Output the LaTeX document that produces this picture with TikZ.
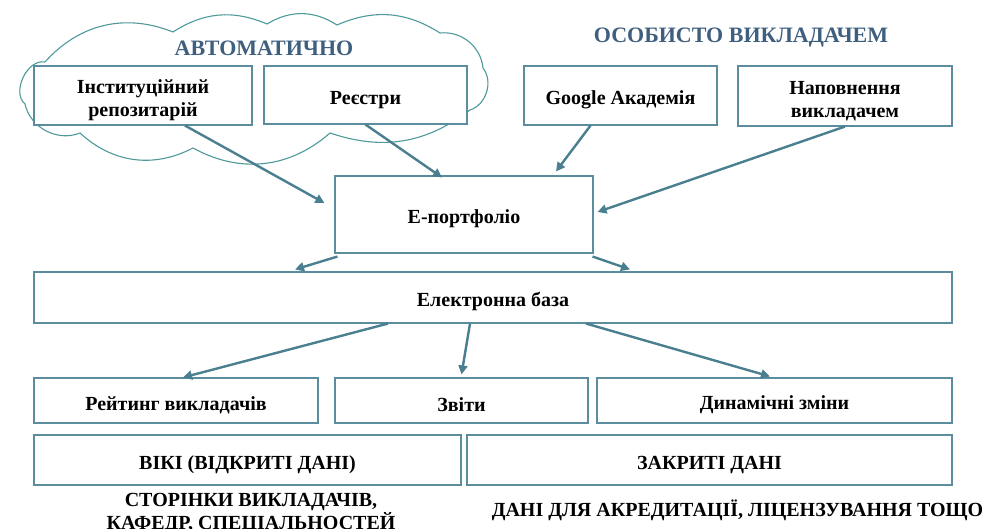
\documentclass[tikz,border=0pt]{standalone}
\usepackage{fontspec}
\setmainfont{Liberation Serif}
\usepackage{tikz}
\usetikzlibrary{arrows.meta}
\usepackage{xcolor}
\definecolor{boxline}{HTML}{5B8D9E}
\definecolor{arrowc}{HTML}{4A7F8F}
\definecolor{cloudc}{HTML}{4E9A9A}
\definecolor{headc}{HTML}{3F5F7F}

\tikzset{
  box/.style={draw=boxline,line width=1.1pt,fill=white,align=center,inner sep=0pt,
    text height=23pt,font=\bfseries\fontsize{20}{23}\selectfont},
  twoline/.style={text height=47pt},
  arr/.style={draw=arrowc,line width=2.4pt,-{Triangle[length=9pt,width=9pt]}},
  head/.style={text=headc,font=\bfseries\fontsize{22}{24}\selectfont},
  note/.style={align=center,font=\bfseries\fontsize{20}{21}\selectfont}
}

\begin{document}
\begin{tikzpicture}[x=1pt,y=-1pt]
\useasboundingbox (0,0) rectangle (989,529);

% cloud
\draw[cloudc,line width=1.1pt] (45,62) to[bend left=35] (173,32) to[bend left=28] (267,24)
  to[bend left=32] (337,25) to[bend left=28] (440,33) to[bend left=45] (483,68)
  to[bend left=55] (470,110) to[bend left=28] (330,133) to[bend left=35] (193,148)
  to[bend left=35] (80,133) to[bend left=50] (25,104) to[bend left=75] (45,62);

\node[head] (avto) at (264,48) {АВТОМАТИЧНО};
\node[head] (osob) at (741,38) {ОСОБИСТО ВИКЛАДАЧЕМ};

\node[box,twoline,minimum width=218pt,minimum height=59pt] (inst) at (143,95.5) {Інституційний\\репозитарій};
\node[box,minimum width=203pt,minimum height=58pt] (reestry) at (365.5,95) {Реєстри};
\node[box,minimum width=193pt,minimum height=59pt] (google) at (620.5,95.5) {Google Академія};
\node[box,twoline,minimum width=214pt,minimum height=60pt] (napovn) at (845,96) {Наповнення\\викладачем};

\node[box,minimum width=258pt,minimum height=77pt] (eport) at (464,214.5) {Е-портфоліо};
\node[box,minimum width=918pt,minimum height=51pt] (ebaza) at (493,297.5) {Електронна база};

\node[box,minimum width=284pt,minimum height=45pt] (rating) at (176,400.5) {Рейтинг викладачів};
\node[box,minimum width=253pt,minimum height=45pt] (zvity) at (461.5,400.5) {Звіти};
\node[box,minimum width=355pt,minimum height=45pt] (dynam) at (774.5,400.5) {Динамічні зміни};

\node[box,minimum width=427pt,minimum height=50pt] (viki) at (247.5,460) {ВІКІ (ВІДКРИТІ ДАНІ)};
\node[box,minimum width=485pt,minimum height=50pt] (zakr) at (709.5,460) {ЗАКРИТІ ДАНІ};

\node[note] (storinky) at (251,513.5) {СТОРІНКИ ВИКЛАДАЧІВ,\\КАФЕДР, СПЕЦІАЛЬНОСТЕЙ};
\node[note] (akred) at (737.5,510) {ДАНІ ДЛЯ АКРЕДИТАЦІЇ, ЛІЦЕНЗУВАННЯ ТОЩО};

% into the portfolio
\draw[arr] ([xshift=42pt]inst.south) -- ([xshift=-10pt,yshift=11.5pt]eport.west);
\draw[arr] (reestry.south) -- ([xshift=-22pt,yshift=-2pt]eport.north);
\draw[arr] ([xshift=-30pt]google.south) -- ([xshift=92pt,yshift=4pt]eport.north);
\draw[arr] (napovn.south) -- ([xshift=4pt,yshift=2.5pt]eport.east);

% portfolio to base
\draw[arr] ([xshift=3pt,yshift=-3pt]eport.south west) -- ([xshift=-198pt,yshift=2pt]ebaza.north);
\draw[arr] ([xshift=-1pt,yshift=-3pt]eport.south east) -- ([xshift=137pt,yshift=2pt]ebaza.north);

% base to outputs
\draw[arr] ([xshift=-105pt]ebaza.south) -- ([xshift=7pt]rating.north);
\draw[arr] ([xshift=-23pt]ebaza.south) -- ([yshift=3pt]zvity.north);
\draw[arr] ([xshift=93pt]ebaza.south) -- ([xshift=-4.5pt,yshift=1pt]dynam.north);
\end{tikzpicture}
\end{document}
